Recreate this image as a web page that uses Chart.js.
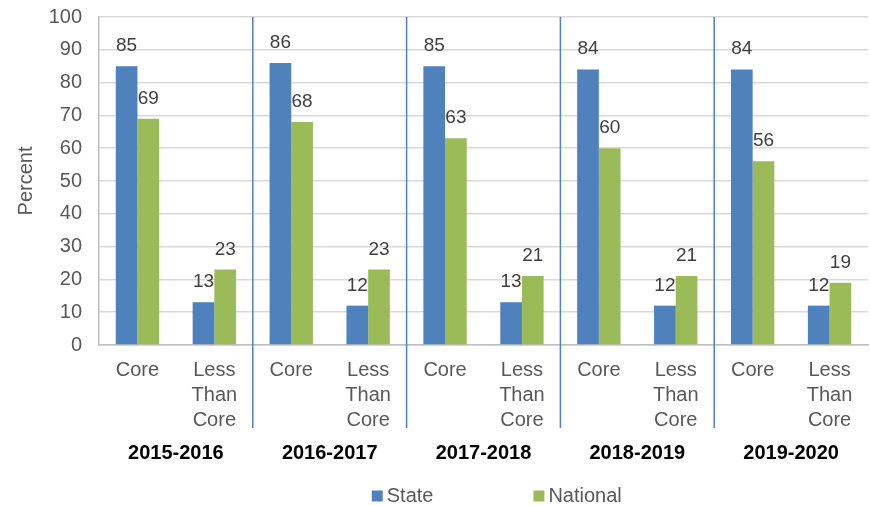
<!DOCTYPE html>
<html>
<head>
<meta charset="utf-8">
<script src="https://cdn.jsdelivr.net/npm/chart.js@4.4.0/dist/chart.umd.min.js"></script>
<style>
  html, body { margin: 0; padding: 0; background: #fff; }
  #wrap { width: 870px; height: 505px; }
</style>
</head>
<body>
<div id="wrap"><canvas id="grafico" width="870" height="505"></canvas></div>
<script>
const categories = [
  ['Core'], ['Less', 'Than', 'Core'],
  ['Core'], ['Less', 'Than', 'Core'],
  ['Core'], ['Less', 'Than', 'Core'],
  ['Core'], ['Less', 'Than', 'Core'],
  ['Core'], ['Less', 'Than', 'Core']
];
const years = ['2015-2016', '2016-2017', '2017-2018', '2018-2019', '2019-2020'];
const stateValues = [85, 13, 86, 12, 85, 13, 84, 12, 84, 12];
const nationalValues = [69, 23, 68, 23, 63, 21, 60, 21, 56, 19];
const yTicks = [0, 10, 20, 30, 40, 50, 60, 70, 80, 90, 100];

const FONT = "'Liberation Sans', Arial, sans-serif";

// numbers above each bar
const valueLabels = {
  id: 'valueLabels',
  afterDatasetsDraw(chart) {
    const ctx = chart.ctx;
    ctx.save();
    ctx.font = '19px ' + FONT;
    ctx.fillStyle = '#404040';
    ctx.textAlign = 'center';
    ctx.textBaseline = 'alphabetic';
    chart.data.datasets.forEach((ds, i) => {
      chart.getDatasetMeta(i).data.forEach((bar, j) => {
        ctx.fillText(ds.data[j], bar.x, bar.y - 15);
      });
    });
    ctx.restore();
  }
};

// blue lines between the school years
const separators = {
  id: 'separators',
  afterDraw(chart) {
    const x = chart.scales.x;
    const ctx = chart.ctx;
    ctx.save();
    ctx.strokeStyle = '#4F81BD';
    ctx.lineWidth = 1.5;
    for (let g = 1; g < years.length; g++) {
      const px = (x.getPixelForValue(g * 2 - 1) + x.getPixelForValue(g * 2)) / 2;
      ctx.beginPath();
      ctx.moveTo(px, chart.chartArea.top);
      ctx.lineTo(px, x.bottom - 4);
      ctx.stroke();
    }
    ctx.restore();
  }
};

// legend with wide spacing like the original
const wideLegend = {
  id: 'wideLegend',
  afterDraw(chart) {
    const ctx = chart.ctx;
    ctx.save();
    ctx.font = '20px ' + FONT;
    ctx.textBaseline = 'middle';
    const y = 496;
    const box = 11, gap = 4, spacing = 100;
    const widths = chart.data.datasets.map(d => box + gap + ctx.measureText(d.label).width);
    const total = widths.reduce((a, b) => a + b, 0) + spacing * (widths.length - 1);
    let left = chart.width * 0.571 - total / 2;
    chart.data.datasets.forEach((d, i) => {
      ctx.fillStyle = d.backgroundColor;
      ctx.fillRect(left, y - box / 2, box, box);
      ctx.fillStyle = '#595959';
      ctx.fillText(d.label, left + box + gap, y);
      left += widths[i] + spacing;
    });
    ctx.restore();
  }
};

new Chart(document.getElementById('grafico').getContext('2d'), {
  type: 'bar',
  data: {
    labels: categories,
    datasets: [
      { label: 'State', data: stateValues, backgroundColor: '#4F81BD',
        categoryPercentage: 0.564, barPercentage: 1 },
      { label: 'National', data: nationalValues, backgroundColor: '#9BBB59',
        categoryPercentage: 0.564, barPercentage: 1 }
    ]
  },
  options: {
    responsive: false,
    animation: false,
    layout: { padding: { top: 17, right: 2, bottom: 40, left: 0 } },
    plugins: {
      legend: { display: false },
      tooltip: { enabled: false }
    },
    scales: {
      y: {
        min: 0,
        max: 100,
        afterBuildTicks(scale) { scale.ticks = yTicks.map(v => ({ value: v })); },
        afterFit(scale) {
          scale.width = 99;
          scale.paddingTop = 0;
          scale.paddingBottom = 0;
        },
        ticks: { font: { size: 20, family: FONT }, color: '#595959', padding: 17 },
        grid: { color: '#d9d9d9', lineWidth: 1.5, drawTicks: false },
        border: { color: '#bfbfbf', width: 1.5 },
        title: {
          display: true,
          text: 'Percent',
          font: { size: 20, family: FONT },
          color: '#595959',
          padding: { top: 14, bottom: 0 }
        }
      },
      x: {
        afterFit(scale) { scale.height = 87; },
        ticks: { font: { size: 20, family: FONT, lineHeight: 1.25 }, color: '#595959', padding: 13, maxRotation: 0, autoSkip: false },
        grid: { display: false, drawTicks: false },
        border: { color: '#bfbfbf', width: 1.5 }
      },
      x2: {
        type: 'category',
        labels: years,
        position: 'bottom',
        offset: true,
        afterFit(scale) { scale.height = 33; },
        ticks: { font: { size: 20, family: FONT, weight: 'bold', lineHeight: 1.2 }, color: '#000000', padding: 9, maxRotation: 0 },
        grid: { display: false, drawTicks: false },
        border: { display: false }
      }
    }
  },
  plugins: [valueLabels, separators, wideLegend]
});
</script>
</body>
</html>
